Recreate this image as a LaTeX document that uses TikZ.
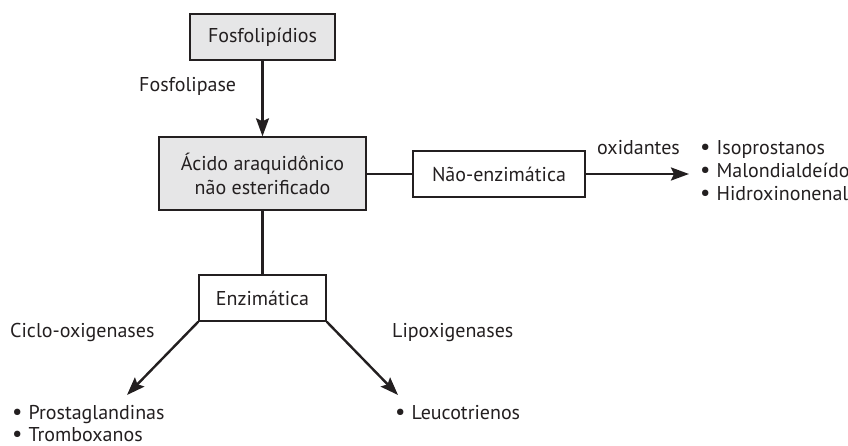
\documentclass[tikz,border=0pt]{standalone}
\usepackage{fontspec}
\setmainfont{PT Sans}
\usetikzlibrary{arrows.meta}
\definecolor{boxgray}{HTML}{E6E6E7}
\definecolor{ink}{HTML}{231F20}
\newcommand{\bul}{{\fontsize{23}{23}\selectfont•}\hspace{6pt}}
\begin{document}
\begin{tikzpicture}[x=1pt,y=-1pt,
  every node/.style={font=\fontsize{20}{24}\selectfont, text=ink},
  graybox/.style={draw=ink, line width=1.4pt, fill=boxgray, inner sep=0pt},
  whitebox/.style={draw=ink, line width=1.4pt, fill=white, inner sep=0pt},
  conn/.style={draw=ink, line width=2.4pt},
  arr/.style={conn, -{Stealth[length=18pt,width=13pt,inset=3pt]}},
  lbl/.style={inner sep=0pt, anchor=base west},
]
\useasboundingbox (0,0) rectangle (848,446);
\node[graybox, minimum width=145pt, minimum height=46pt] (fos) at (262.5,37) {Fosfolipídios};
\node[graybox, minimum width=207pt, minimum height=73pt, align=center] (acido) at (262.5,173.5) {Ácido araquidônico\\não esterificado};
\node[whitebox, minimum width=172pt, minimum height=46pt] (nenz) at (499,174) {Não-enzimática};
\node[whitebox, minimum width=127pt, minimum height=46pt] (enz) at (262.5,298) {Enzimática};
\node[lbl] (fosfolipase) at (139,92) {Fosfolipase};
\node[lbl] (oxid) at (597,155) {oxidantes};
\node[lbl] (ox1) at (700,155) {\bul{}Isoprostanos};
\node[lbl] (ox2) at (700,178) {\bul{}Malondialdeído};
\node[lbl] (ox3) at (700,200.5) {\bul{}Hidroxinonenal};
\node[lbl] (ciclo) at (10,337) {Ciclo-oxigenases};
\node[lbl] (lipo) at (392,337) {Lipoxigenases};
\node[lbl] (pg) at (12,419) {\bul{}Prostaglandinas};
\node[lbl] (tx) at (12,441) {\bul{}Tromboxanos};
\node[lbl] (lt) at (395,419) {\bul{}Leucotrienos};
\coordinate (cox) at (127,395);
\coordinate (lox) at (398,395);
\coordinate (oxend) at (689,174);
\draw[arr] (fos.south) -- (acido.north);
\draw[conn] (acido.east |- nenz.west) -- (nenz.west);
\draw[arr] (nenz.east) -- (oxend);
\draw[conn] (acido.south) -- (enz.north);
\draw[arr] (enz.south west) -- (cox);
\draw[arr] (enz.south east) -- (lox);
\end{tikzpicture}
\end{document}
